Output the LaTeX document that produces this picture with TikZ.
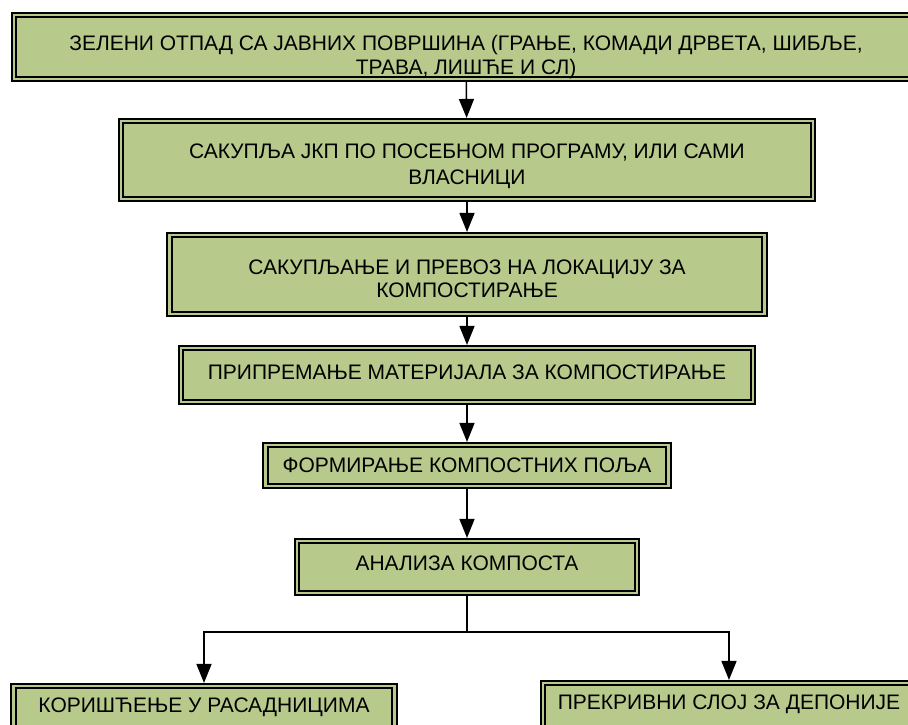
\documentclass[tikz,border=0pt]{standalone}
\usepackage{fontspec}
\setmainfont{Liberation Sans}
\usetikzlibrary{arrows.meta}
\definecolor{boxgreen}{RGB}{183,201,139}
\newcommand{\downby}[1]{\rule{0pt}{#1}}
\newcommand{\upby}[1]{\rule[-#1]{0pt}{#1}}
\tikzset{
  stepbox/.style={draw=black, line width=1.8pt, double=boxgreen, double distance=2.5pt,
    fill=boxgreen, inner sep=0pt, outer sep=3.05pt, align=center,
    font=\fontsize{21}{25}\selectfont},
  flow/.style={line width=1.5pt, -{Triangle[width=15pt,length=19pt]}},
  plain/.style={line width=1.5pt}
}
\begin{document}
\begin{tikzpicture}[x=1pt,y=-1pt]
\useasboundingbox (0,0) rectangle (908,724);
\node[stepbox, minimum width=904pt, minimum height=64pt] (b1) at (466,47)
  {\downby{36pt}ЗЕЛЕНИ ОТПАД СА ЈАВНИХ ПОВРШИНА (ГРАЊЕ, КОМАДИ ДРВЕТА, ШИБЉЕ,\\[-1pt]ТРАВА, ЛИШЋЕ И СЛ)};
\node[stepbox, minimum width=692pt, minimum height=78pt] (b2) at (467,160)
  {\downby{28pt}САКУПЉА ЈКП ПО ПОСЕБНОМ ПРОГРАМУ, ИЛИ САМИ\\[1pt]ВЛАСНИЦИ};
\node[stepbox, minimum width=595pt, minimum height=79pt] (b3) at (467,274.5)
  {\downby{24pt}САКУПЉАЊЕ И ПРЕВОЗ НА ЛОКАЦИЈУ ЗА\\[-2pt]КОМПОСТИРАЊЕ};
\node[stepbox, minimum width=572pt, minimum height=54pt] (b4) at (467,375)
  {ПРИПРЕМАЊЕ МАТЕРИЈАЛА ЗА КОМПОСТИРАЊЕ\upby{5pt}};
\node[stepbox, minimum width=403pt, minimum height=41pt] (b5) at (467,465.5)
  {ФОРМИРАЊЕ КОМПОСТНИХ ПОЉА};
\node[stepbox, minimum width=340pt, minimum height=52pt] (b6) at (467,567)
  {АНАЛИЗА КОМПОСТА\upby{7pt}};
\node[stepbox, minimum width=381pt, minimum height=60pt] (b7) at (204,716)
  {КОРИШЋЕЊЕ У РАСАДНИЦИМА\upby{22pt}};
\node[stepbox, minimum width=372pt, minimum height=60pt] (b8) at (729,713)
  {ПРЕКРИВНИ СЛОЈ ЗА ДЕПОНИЈЕ\upby{22pt}};
\coordinate (split) at (467,632);
\draw[flow] (b1) -- (b2);
\draw[flow] (b2) -- (b3);
\draw[flow] (b3) -- (b4);
\draw[flow] (b4) -- (b5);
\draw[flow] (b5) -- (b6);
\draw[plain] (b6) -- (split);
\draw[flow] (split) -| (b7.north);
\draw[flow] (split) -| (b8.north);
\end{tikzpicture}
\end{document}
